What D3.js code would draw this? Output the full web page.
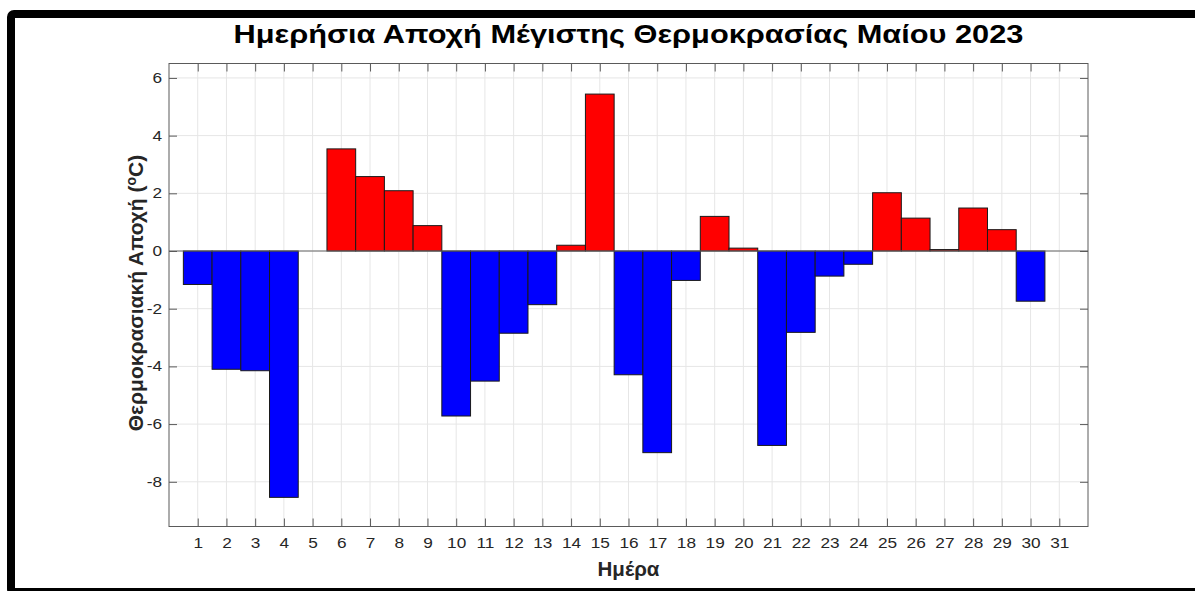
<!DOCTYPE html>
<html>
<head>
<meta charset="utf-8">
<script src="https://cdn.jsdelivr.net/npm/d3@7"></script>
<style>
  html, body { margin: 0; padding: 0; background: #fff; }
  svg { display: block; }
  text { font-family: "Liberation Sans", Arial, sans-serif; }
</style>
</head>
<body>
<svg id="chart" width="1195" height="591"></svg>
<script>
// ---- data ----
const days = d3.range(1, 32);
const anomalies = [-1.16, -4.10, -4.15, -8.54, 0, 3.54, 2.58, 2.09, 0.88, -5.72,
                   -4.51, -2.85, -1.86, 0.20, 5.44, -4.29, -6.99, -1.02, 1.20, 0.10,
                   -6.74, -2.82, -0.87, -0.46, 2.02, 1.14, 0.05, 1.49, 0.74, -1.74, 0];
const yTicks = [-8, -6, -4, -2, 0, 2, 4, 6];
const titleText = "Ημερήσια Αποχή Μέγιστης Θερμοκρασίας Μαίου 2023";
const xLabelText = "Ημέρα";

// ---- layout ----
const svg = d3.select("#chart");
const axL = 169, axR = 1088, axT = 63.5, axB = 526.5;
const SX = 1.23; // horizontal glyph stretch seen in the reference

const x = d3.scaleLinear().domain([0, 32]).range([axL, axR]);
const y = d3.scaleLinear().domain([-9.55, 6.5]).range([axB, axT]);

// frame
svg.append("rect")
  .attr("x", 11).attr("y", 14)
  .attr("width", 1300).attr("height", 578)
  .attr("rx", 3)
  .attr("fill", "none").attr("stroke", "#000").attr("stroke-width", 8);

// axes background
svg.append("rect").attr("x", axL).attr("y", axT)
  .attr("width", axR - axL).attr("height", axB - axT).attr("fill", "#fff");

// grid
const g = svg.append("g");
g.selectAll(".gx").data(days).join("line")
  .attr("x1", d => x(d)).attr("x2", d => x(d))
  .attr("y1", axT).attr("y2", axB)
  .attr("stroke", "#e6e6e6").attr("stroke-width", 1);
g.selectAll(".gy").data(yTicks).join("line")
  .attr("y1", d => y(d)).attr("y2", d => y(d))
  .attr("x1", axL).attr("x2", axR)
  .attr("stroke", "#e6e6e6").attr("stroke-width", 1);

// bars
g.selectAll(".bar").data(days.filter((d, i) => anomalies[i] !== 0)).join("rect")
  .attr("x", d => x(d - 0.5))
  .attr("width", d => x(d + 0.5) - x(d - 0.5))
  .attr("y", d => y(Math.max(0, anomalies[d - 1])))
  .attr("height", d => Math.abs(y(anomalies[d - 1]) - y(0)))
  .attr("fill", d => anomalies[d - 1] > 0 ? "#ff0000" : "#0000ff")
  .attr("stroke", "#1a1a1a").attr("stroke-width", 1);

// baseline
g.append("line").attr("x1", axL).attr("x2", axR)
  .attr("y1", y(0)).attr("y2", y(0))
  .attr("stroke", "#666").attr("stroke-width", 1);

// axes with inward ticks
const tickLen = 8;
const axColor = "#5a5a5a";
const fmt = d => String(d);
const xb = d3.axisBottom(x).tickValues(days).tickSize(-tickLen).tickPadding(12).tickFormat(fmt);
const xt = d3.axisTop(x).tickValues(days).tickSize(-tickLen).tickFormat("");
const yl = d3.axisLeft(y).tickValues(yTicks).tickSize(-tickLen).tickPadding(7).tickFormat(fmt);
const yr = d3.axisRight(y).tickValues(yTicks).tickSize(-tickLen).tickFormat("");

function style(sel) {
  sel.select(".domain").remove();
  sel.selectAll(".tick line").attr("stroke", axColor);
  sel.selectAll(".tick text").attr("fill", "#262626")
     .style("font-size", "14px").style("font-family", "'Liberation Sans', Arial, sans-serif");
}
svg.append("g").attr("transform", `translate(0,${axB})`).call(xb).call(style)
  .selectAll(".tick text").attr("transform", `scale(${SX},1)`);
svg.append("g").attr("transform", `translate(0,${axT})`).call(xt).call(style);
svg.append("g").attr("transform", `translate(${axL},0)`).call(yl).call(style)
  .selectAll(".tick text").attr("x", -7 / SX).attr("transform", `scale(${SX},1)`);
svg.append("g").attr("transform", `translate(${axR},0)`).call(yr).call(style);

// box
svg.append("rect").attr("x", axL).attr("y", axT)
  .attr("width", axR - axL).attr("height", axB - axT)
  .attr("fill", "none").attr("stroke", axColor).attr("stroke-width", 1);

// title
svg.append("g").attr("transform", `translate(${(axL + axR) / 2},43) scale(${SX},1)`)
  .append("text")
  .attr("text-anchor", "middle")
  .style("font-size", "25px").style("font-weight", "bold")
  .attr("fill", "#000")
  .text(titleText);

// x label
svg.append("text")
  .attr("x", (axL + axR) / 2).attr("y", 576)
  .attr("text-anchor", "middle")
  .style("font-size", "20.5px").style("font-weight", "bold")
  .attr("fill", "#262626")
  .text(xLabelText);

// y label
const yLab = svg.append("text")
  .attr("transform", `translate(143,${(axT + axB) / 2 - 2}) rotate(-90)`)
  .attr("text-anchor", "middle")
  .style("font-size", "21px").style("font-weight", "bold")
  .attr("fill", "#262626");
yLab.append("tspan").text("Θερμοκρασιακή Αποχή (");
yLab.append("tspan").attr("dy", -7).style("font-size", "14px").text("o");
yLab.append("tspan").attr("dy", 7).text("C)");
</script>
</body>
</html>
